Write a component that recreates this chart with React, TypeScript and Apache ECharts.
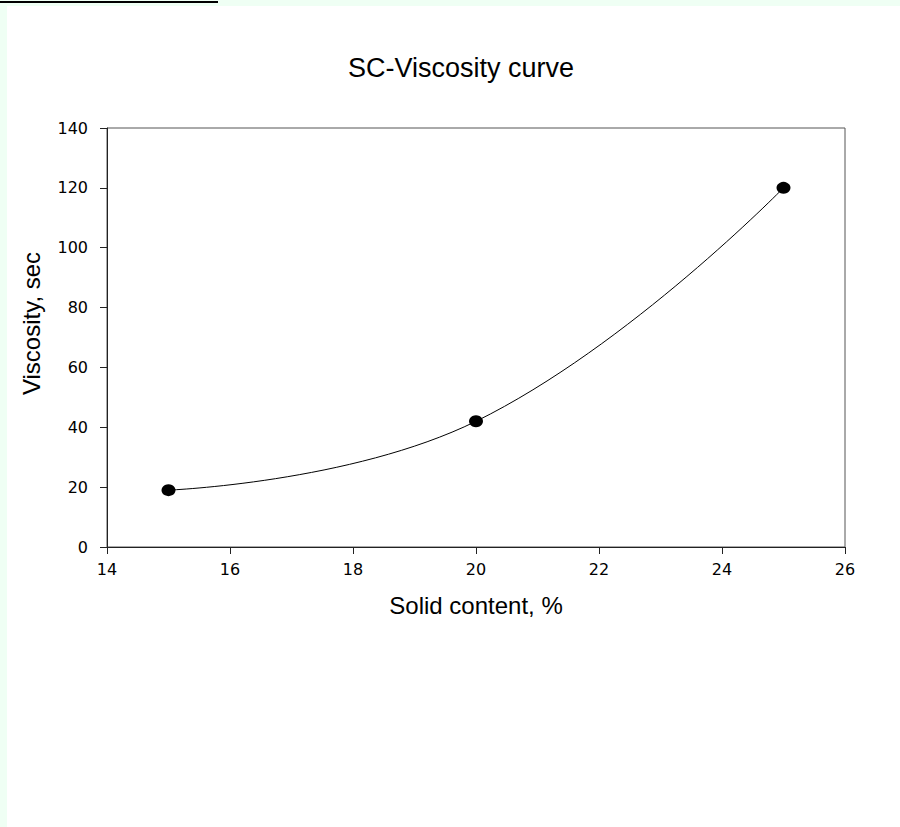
import React, { useEffect, useRef } from "react";
import * as echarts from "echarts";

const solidContent = [15, 20, 25];
const viscosity = [19, 42, 120];
const xTicks = [14, 16, 18, 20, 22, 24, 26];
const yTicks = [0, 20, 40, 60, 80, 100, 120, 140];

export default function App() {
  const ref = useRef<HTMLDivElement>(null);
  useEffect(() => {
    document.body.style.margin = "0";
    const chart = echarts.init(ref.current!, undefined, { renderer: "svg" });
    const font = "'Liberation Sans', Arial, sans-serif";
    const tickFont = "'DejaVu Sans', 'Liberation Sans', sans-serif";
    chart.setOption({
      animation: false,
      backgroundColor: "#ffffff",
      title: {
        text: "SC-Viscosity curve",
        left: 456,
        top: 49,
        textAlign: "center",
        textStyle: { fontFamily: font, fontSize: 27, fontWeight: "normal", color: "#000" },
      },
      graphic: [
        { type: "rect", shape: { x: 0, y: 0, width: 900, height: 6 }, style: { fill: "#effff4" }, silent: true },
        { type: "rect", shape: { x: 0, y: 0, width: 7, height: 827 }, style: { fill: "#effff4" }, silent: true },
        { type: "rect", shape: { x: 0, y: 1, width: 218, height: 2 }, style: { fill: "#000" }, silent: true },
      ],
      grid: {
        left: 107,
        top: 128,
        right: 55,
        bottom: 280,
        show: true,
        borderColor: "#555",
        borderWidth: 1,
        backgroundColor: "transparent",
      },
      xAxis: {
        type: "value",
        min: xTicks[0],
        max: xTicks[xTicks.length - 1],
        interval: 2,
        name: "Solid content, %",
        nameLocation: "middle",
        nameGap: 46,
        nameTextStyle: { fontFamily: font, fontSize: 24, color: "#000" },
        axisLine: { show: true, onZero: false, lineStyle: { color: "#222", width: 1 } },
        axisTick: { show: true, length: 7, lineStyle: { color: "#222" } },
        axisLabel: { fontFamily: tickFont, fontSize: 16, color: "#000", margin: 14 },
        splitLine: { show: false },
      },
      yAxis: {
        type: "value",
        min: yTicks[0],
        max: yTicks[yTicks.length - 1],
        interval: 20,
        name: "Viscosity, sec",
        nameLocation: "middle",
        nameGap: 64,
        nameTextStyle: { fontFamily: font, fontSize: 24, color: "#000", padding: [0, 0, 0, 28] },
        axisLine: { show: true, onZero: false, lineStyle: { color: "#222", width: 1 } },
        axisTick: { show: true, length: 7, lineStyle: { color: "#222" } },
        axisLabel: { fontFamily: tickFont, fontSize: 16, color: "#000", margin: 19 },
        splitLine: { show: false },
      },
      series: [
        {
          type: "line",
          data: solidContent.map((x, i) => [x, viscosity[i]]),
          smooth: 0.45,
          lineStyle: { color: "#000", width: 1 },
          symbol: "circle",
          symbolSize: [14, 12],
          itemStyle: { color: "#000" },
        },
      ],
    });
    return () => chart.dispose();
  }, []);
  return <div ref={ref} style={{ position: "absolute", left: 0, top: 0, width: 900, height: 827 }} />;
}
